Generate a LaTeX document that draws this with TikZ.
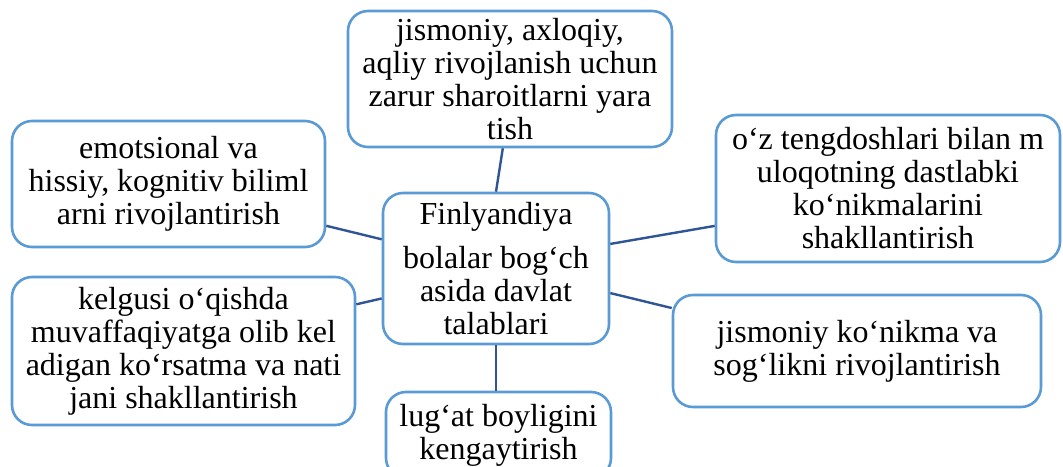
\documentclass[tikz,border=0pt]{standalone}
\usepackage{fontspec}
\setmainfont{Liberation Serif}
\usetikzlibrary{calc}
\definecolor{boxblue}{HTML}{5B9BD5}
\definecolor{linkblue}{HTML}{2F5597}
\begin{document}
\begin{tikzpicture}[x=1pt,y=-1pt,
  box/.style={draw=boxblue, line width=2.6pt, rounded corners=20pt, fill=white,
    align=center, inner sep=0pt, font=\fontsize{32}{33}\selectfont},
  link/.style={draw=linkblue, line width=2.4pt}]
\useasboundingbox (0,0) rectangle (1063,466);
\clip (0,0) rectangle (1063,466);
% nodes (centre, width, height in px)
\node[box, minimum width=324pt, minimum height=136pt] (top) at (510,79)
  {jismoniy, axloqiy,\\ aqliy rivojlanish uchun\\ zarur sharoitlarni yara\\ tish};
\node[box, minimum width=226pt, minimum height=151pt] (c) at (496,268.5)
  {Finlyandiya\\[11pt] bolalar bog‘ch\\ asida davlat\\ talablari};
\node[box, minimum width=313pt, minimum height=126pt] (l1) at (168.5,184)
  {emotsional va\\ hissiy, kognitiv biliml\\ arni rivojlantirish};
\node[box, minimum width=343pt, minimum height=148pt] (l2) at (183.5,351)
  {kelgusi o‘qishda\\ muvaffaqiyatga olib kel\\ adigan ko‘rsatma va nati\\ jani shakllantirish};
\node[box, minimum width=344pt, minimum height=147pt] (r1) at (888,188.5)
  {o‘z tengdoshlari bilan m\\ uloqotning dastlabki\\ ko‘nikmalarini\\ shakllantirish};
\node[box, minimum width=368pt, minimum height=112pt] (r2) at (857,351)
  {jismoniy ko‘nikma va\\ sog‘likni rivojlantirish};
\node[box, minimum width=225pt, minimum height=86pt] (b) at (498.5,435)
  {lug‘at boyligini\\ kengaytirish};
% connectors
\draw[link] ($(top.south west)!0.478!(top.south east)$) -- (c.north);
\draw[link] ($(l1.north east)!0.825!(l1.south east)$) -- ($(c.north west)!0.31!(c.south west)$);
\draw[link] ($(l2.north east)!0.19!(l2.south east)$) -- ($(c.north west)!0.695!(c.south west)$);
\draw[link] ($(c.north east)!0.34!(c.south east)$) -- ($(r1.north west)!0.75!(r1.south west)$);
\draw[link] ($(c.north east)!0.66!(c.south east)$) -- ($(r2.north west)!0.125!(r2.south west)$);
\draw[link] (c.south) -- (b.north -| c.south);
\end{tikzpicture}
\end{document}
